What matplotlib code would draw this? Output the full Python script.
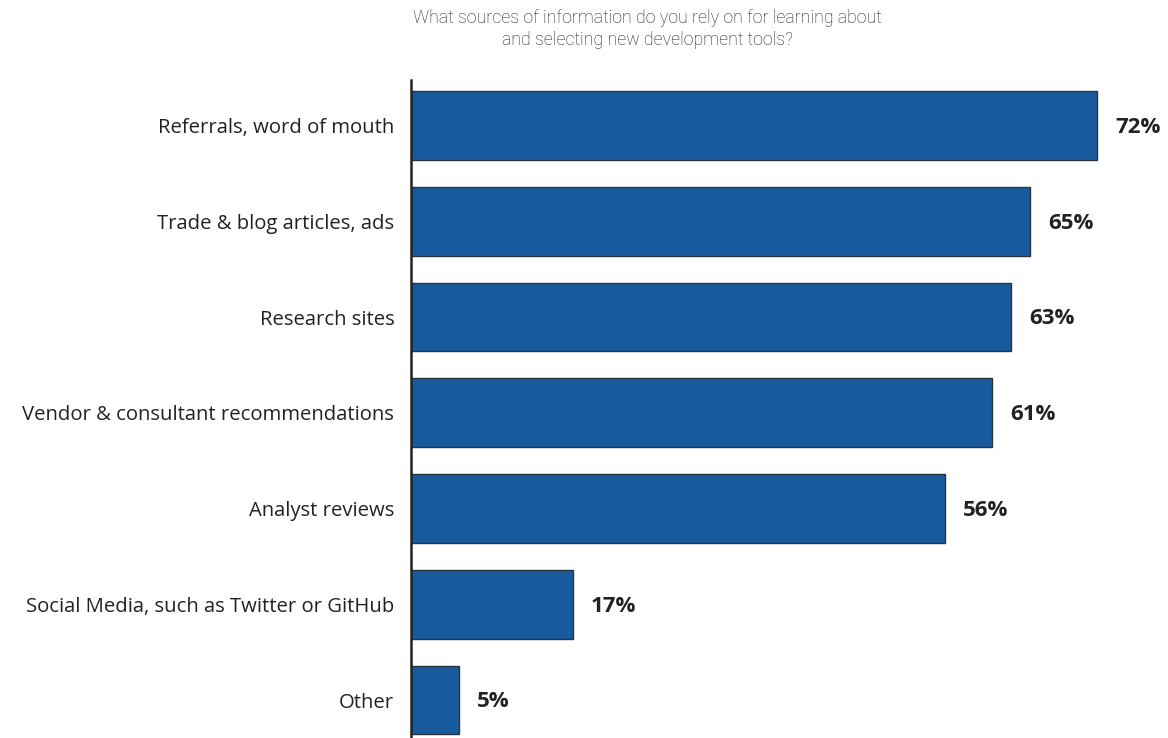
import matplotlib
matplotlib.use("Agg")
import matplotlib.pyplot as plt

categories = [
    "Referrals, word of mouth",
    "Trade & blog articles, ads",
    "Research sites",
    "Vendor & consultant recommendations",
    "Analyst reviews",
    "Social Media, such as Twitter or GitHub",
    "Other",
]
values = [72, 65, 63, 61, 56, 17, 5]
title = "What sources of information do you rely on for learning about\nand selecting new development tools?"

W, H = 1168, 738
fig = plt.figure(figsize=(W / 100, H / 100), dpi=100)
left = 411 / W
ax = fig.add_axes([left, 0.0, 1 - left, 1 - 80 / H])

ypos = list(range(len(categories)))
ax.barh(ypos, values, height=0.72, color="#175A9E", edgecolor="#2b3440", linewidth=1.0)

ax.set_xlim(0, (W - 411) / 9.53)
ax.set_ylim(6 + 38 / 95.75, -45.5 / 95.75)

for y, v in zip(ypos, values):
    ax.text(v + 1.9, y + 0.02, f"{v}%", va="center", ha="left",
            fontsize=16, fontweight="bold", color="#222222", family="Open Sans")

ax.set_yticks(ypos, labels=categories)
ax.tick_params(axis="y", length=0, pad=12, labelsize=14.6, labelcolor="#222222")
for lab in ax.get_yticklabels():
    lab.set_family("Open Sans")
    lab.set_y(lab.get_position()[1])
ax.set_xticks([])
for s in ["top", "right", "bottom"]:
    ax.spines[s].set_visible(False)
ax.spines["left"].set_linewidth(1.8)
ax.spines["left"].set_color("#222222")

fig.text(647 / W, 1 - 29 / H, title, ha="center", va="center", fontsize=12.8,
         color="#1e1e1e", family="Roboto", fontweight="light", linespacing=1.25)

fig.savefig("out.png", dpi=100)
